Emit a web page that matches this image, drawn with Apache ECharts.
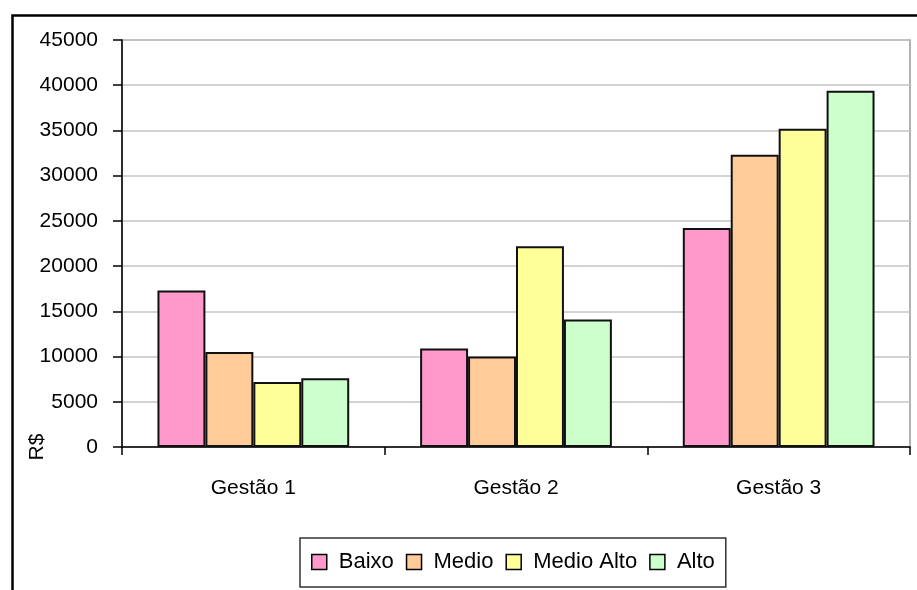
<!DOCTYPE html>
<html>
<head>
<meta charset="utf-8">
<script src="https://cdn.jsdelivr.net/npm/echarts@6/dist/echarts.min.js"></script>
<style>
  html, body { margin: 0; padding: 0; background: #fff; }
  #chart { width: 917px; height: 590px; }
</style>
</head>
<body>
<div id="chart"></div>
<script>
const categories = ['Gestão 1', 'Gestão 2', 'Gestão 3']
const seriesNames = ['Baixo', 'Medio', 'Medio Alto', 'Alto']
const baixo = [17300, 10900, 24200]
const medio = [10500, 10000, 32300]
const medioAlto = [7200, 22200, 35200]
const alto = [7600, 14100, 39400]
const colors = ['#ff99cc', '#ffcc99', '#ffff99', '#ccffcc']

const font = 'Liberation Sans, Arial, sans-serif'
const myChart = echarts.init(document.getElementById('chart'))

const values = [baixo, medio, medioAlto, alto]
const series = seriesNames.map(function (name, i) {
  return {
    name: name,
    type: 'bar',
    barGap: '0%',
    barCategoryGap: '27%',
    itemStyle: {
      color: colors[i],
      borderColor: '#111',
      borderWidth: 2
    },
    data: values[i]
  }
})

const option = {
  backgroundColor: '#fff',
  animation: false,
  grid: {
    left: 122,
    top: 40,
    right: 7,
    bottom: 143,
    show: true,
    borderColor: '#999',
    borderWidth: 1.5
  },
  legend: {
    left: 300,
    top: 538,
    data: seriesNames,
    icon: 'rect',
    itemWidth: 15,
    itemHeight: 15,
    itemGap: 12,
    padding: [13, 11, 14, 11],
    borderColor: '#333',
    borderWidth: 1.5,
    itemStyle: { borderColor: '#000', borderWidth: 1.5 },
    textStyle: { fontFamily: font, fontSize: 22, color: '#000', padding: [0, 0, 0, 7] }
  },
  xAxis: {
    type: 'category',
    data: categories,
    axisLine: { lineStyle: { color: '#000', width: 1.5 } },
    axisTick: { show: true, length: 8, lineStyle: { color: '#000', width: 1.5 } },
    axisLabel: { fontFamily: font, fontSize: 21, color: '#000', margin: 31 }
  },
  yAxis: {
    type: 'value',
    min: 0,
    max: 45000,
    interval: 5000,
    axisLine: { show: true, lineStyle: { color: '#000', width: 1.5 } },
    axisTick: { show: true, length: 9, lineStyle: { color: '#000', width: 1.5 } },
    axisLabel: {
      fontFamily: font,
      fontSize: 21,
      color: '#000',
      margin: 24,
      formatter: function (v) { return String(v) }
    },
    splitLine: { lineStyle: { color: '#c4c4c4', width: 1.5 } }
  },
  graphic: [
    {
      type: 'rect',
      left: 10,
      top: 13,
      shape: { width: 930, height: 600 },
      style: { fill: 'none', stroke: '#000', lineWidth: 2.5 },
      z: 100
    },
    {
      type: 'text',
      x: 37,
      y: 447,
      rotation: Math.PI / 2,
      style: {
        text: 'R$',
        fontFamily: font,
        fontSize: 21,
        fill: '#000',
        textAlign: 'center',
        textVerticalAlign: 'middle'
      }
    }
  ],
  series: series
}

myChart.setOption(option)
window.addEventListener('resize', function () {
  myChart.resize()
})
</script>
</body>
</html>
